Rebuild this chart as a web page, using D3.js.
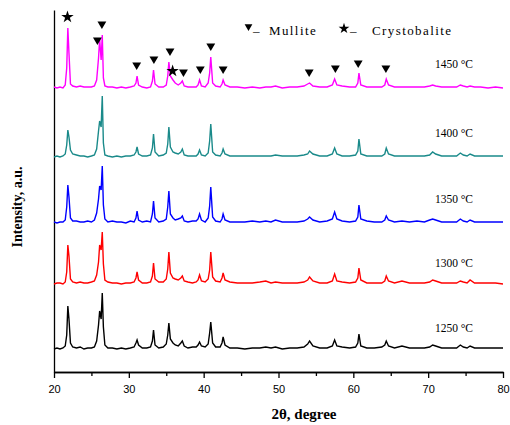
<!DOCTYPE html>
<meta charset="utf-8">
<style>
body { margin: 0; background: #fff; }
text { font-family: 'Liberation Serif', 'Times New Roman', serif; fill: #000; }
.axis text { font-family: 'Liberation Sans', sans-serif; font-size: 11px; }
.axis path, .axis line { stroke: #000; stroke-width: 1.3px; }
.trace { fill: none; stroke-width: 1.4px; stroke-linejoin: miter; }
.temp { font-size: 11.5px; }
.legend { font-size: 13px; letter-spacing: 1.4px; }
</style>
<body>
<svg width="510" height="425"></svg>
<script src="https://cdn.jsdelivr.net/npm/d3@7"></script>
<script>

// 2-theta grid shared by all patterns (degrees)
var twoTheta = [
  20.0, 20.4, 20.8, 21.2, 21.5, 21.7, 21.85, 22.0, 22.2, 22.5,
  23.0, 23.5, 24.0, 24.5, 25.0, 25.4, 25.7, 25.95, 26.1, 26.3,
  26.45, 26.6, 26.8, 27.2, 27.8, 28.4, 29.0, 29.6, 30.2, 30.7,
  30.95, 31.1, 31.3, 31.8, 32.4, 32.9, 33.15, 33.3, 33.5, 34.0,
  34.6, 35.0, 35.2, 35.35, 35.55, 35.9, 36.2, 36.6, 36.95, 37.15,
  37.4, 37.9, 38.5, 39.0, 39.25, 39.45, 39.7, 40.2, 40.6, 40.8,
  40.95, 41.2, 41.6, 42.2, 42.45, 42.6, 42.85, 43.5, 44.5, 45.5,
  46.5, 47.5, 48.3, 49.0, 49.6, 50.5, 51.5, 52.5, 53.4, 53.9,
  54.15, 54.6, 55.5, 56.5, 57.2, 57.5, 57.8, 58.5, 59.5, 60.3,
  60.6, 60.75, 61.0, 61.8, 62.8, 63.8, 64.2, 64.4, 64.7, 65.5,
  66.5, 67.5, 68.5, 69.5, 70.2, 70.6, 71.0, 71.8, 72.8, 73.8,
  74.3, 74.7, 75.2, 75.6, 76.2, 77.0, 78.0, 79.0, 80.0
];

// intensities (a.u.) above each pattern's own baseline
var i1250 = [
  0, 1, 0, 1, 3, 14, 43, 30, 6, 2,
  1, 2, 0, 1, 1, 2, 8, 24, 38, 30,
  56, 22, 4, 1, 1, 0, 1, 0, 1, 2,
  6, 9, 4, 1, 1, 2, 8, 19, 4, 1,
  2, 5, 14, 26, 10, 6, 4, 3, 6, 8,
  3, 1, 2, 2, 4, 7, 3, 2, 5, 16,
  27, 6, 2, 2, 6, 12, 4, 1, 1, 0,
  1, 1, 2, 1, 2, 0, 1, 1, 2, 5,
  8, 3, 1, 1, 3, 9, 3, 2, 1, 2,
  6, 15, 3, 1, 1, 2, 4, 8, 3, 1,
  3, 1, 1, 1, 2, 4, 3, 1, 1, 1,
  4, 2, 1, 3, 1, 1, 1, 1, 1
];
var i1300 = [
  0, 1, 1, 0, 2, 12, 39, 28, 5, 2,
  1, 2, 1, 1, 2, 3, 9, 22, 39, 34,
  52, 20, 4, 2, 1, 1, 0, 1, 1, 2,
  6, 12, 4, 1, 1, 2, 8, 21, 5, 2,
  2, 5, 15, 32, 11, 6, 5, 4, 6, 8,
  3, 2, 1, 2, 4, 9, 3, 2, 5, 14,
  32, 7, 3, 2, 6, 11, 4, 2, 1, 1,
  1, 2, 3, 1, 2, 1, 1, 1, 2, 4,
  7, 3, 1, 1, 3, 10, 3, 2, 1, 2,
  6, 16, 4, 1, 1, 1, 3, 8, 3, 1,
  3, 1, 1, 1, 2, 4, 3, 1, 1, 1,
  3, 2, 1, 4, 1, 1, 1, 1, 0
];
var i1350 = [
  1, 0, 1, 1, 3, 16, 38, 26, 5, 2,
  2, 1, 1, 2, 1, 3, 10, 24, 37, 33,
  57, 18, 4, 1, 2, 1, 1, 0, 2, 1,
  5, 12, 3, 1, 2, 1, 9, 22, 5, 1,
  2, 4, 16, 32, 9, 5, 3, 4, 5, 7,
  2, 1, 2, 2, 4, 9, 3, 1, 5, 17,
  36, 6, 2, 1, 4, 9, 3, 1, 1, 1,
  2, 1, 2, 1, 3, 1, 1, 1, 2, 4,
  6, 3, 1, 2, 4, 11, 4, 2, 1, 2,
  6, 18, 4, 2, 1, 1, 3, 7, 3, 1,
  2, 1, 2, 1, 3, 4, 3, 1, 1, 1,
  4, 2, 1, 3, 1, 1, 1, 1, 1
];
var i1400 = [
  0, 1, 0, 1, 3, 12, 27, 20, 7, 3,
  2, 1, 1, 0, 1, 2, 8, 26, 36, 30,
  61, 14, 2, 1, 0, 1, 0, 1, 1, 2,
  5, 10, 3, 1, 1, 2, 9, 23, 5, 1,
  2, 4, 13, 30, 10, 5, 4, 3, 5, 8,
  2, 1, 1, 1, 3, 7, 2, 1, 4, 16,
  33, 5, 2, 1, 4, 8, 3, 1, 1, 1,
  1, 1, 1, 1, 2, 1, 1, 1, 2, 3,
  6, 3, 1, 1, 3, 9, 3, 1, 1, 2,
  6, 18, 3, 1, 1, 1, 3, 9, 3, 1,
  1, 1, 1, 1, 2, 5, 3, 1, 1, 1,
  4, 2, 1, 3, 1, 1, 1, 1, 1
];
var i1450 = [
  1, 0, 1, 0, 3, 20, 60, 35, 4, 2,
  1, 2, 1, 1, 1, 2, 8, 30, 49, 28,
  53, 10, 2, 1, 1, 0, 1, 0, 1, 2,
  5, 12, 3, 1, 0, 1, 7, 18, 4, 1,
  1, 3, 12, 26, 12, 8, 5, 3, 5, 7,
  2, 1, 1, 1, 3, 8, 2, 1, 5, 15,
  31, 5, 2, 1, 4, 8, 3, 1, 1, 0,
  1, 0, 1, 1, 2, 0, 1, 1, 2, 4,
  5, 2, 1, 1, 3, 9, 3, 2, 1, 1,
  5, 15, 3, 1, 1, 1, 3, 9, 3, 1,
  1, 1, 1, 1, 2, 3, 2, 1, 1, 1,
  3, 2, 1, 2, 1, 1, 0, 1, 0
];

var temps = ["1250 °C", "1300 °C", "1350 °C", "1400 °C", "1450 °C"];
var offsets = [23, 88, 149, 215, 284];
var colors = ["#000000", "#ff0000", "#0000ff", "#1a8a8a", "#ff00ff"];
var patterns = [i1250, i1300, i1350, i1400, i1450];

// phase markers over the 1450 °C pattern
var mulliteAt = [26.4, 25.8, 31.05, 33.35, 35.5, 37.3, 39.55, 40.95, 42.6, 54.1, 57.6, 60.65, 64.35];
var mulliteLevel = [348, 332, 307, 313, 321, 300, 303, 326, 303, 300, 304, 309, 304];
var crystAt = [21.8, 35.85];
var crystLevel = [355, 301];

var xTicks = [20, 30, 40, 50, 60, 70, 80];
var xMinor = [25, 35, 45, 55, 65, 75];

var svg = d3.select("svg");

var x = d3.scaleLinear().domain([20, 80]).range([54, 503]);
var y = d3.scaleLinear().domain([0, 362]).range([372, 10]);

svg.append("g")
    .attr("class", "axis")
    .attr("transform", "translate(0,372)")
    .call(d3.axisBottom(x).tickValues(xMinor).tickSize(4).tickSizeOuter(0).tickFormat(""));

svg.append("g")
    .attr("class", "axis")
    .attr("transform", "translate(0,372)")
    .call(d3.axisBottom(x).tickValues(xTicks).tickSize(6).tickSizeOuter(0).tickPadding(7).tickFormat(d3.format("d")));

svg.append("g")
    .attr("class", "axis")
    .attr("transform", "translate(54,0)")
    .call(d3.axisLeft(y).tickValues([]).tickSizeOuter(0));

var line = d3.line()
    .x(function(d) { return x(d[0]); })
    .y(function(d) { return y(d[1]); });

patterns.forEach(function(p, k) {
  var pts = twoTheta.map(function(t, i) { return [t, p[i] + offsets[k]]; });
  svg.append("path")
      .attr("class", "trace")
      .attr("stroke", colors[k])
      .attr("d", line(pts));

  svg.append("text")
      .attr("class", "temp")
      .attr("x", x(70.9))
      .attr("y", y(offsets[k] + (k < 2 ? 17 : 20)))
      .text(temps[k]);
});

var tri = d3.symbol().type(d3.symbolTriangle).size(34);
var star = d3.symbol().type(d3.symbolStar).size(48);

svg.selectAll(".mul")
  .data(mulliteAt)
  .enter().append("path")
    .attr("class", "mul")
    .attr("d", tri)
    .attr("transform", function(d, i) { return "translate(" + x(d) + "," + y(mulliteLevel[i]) + ") rotate(180)"; });

svg.selectAll(".cry")
  .data(crystAt)
  .enter().append("path")
    .attr("class", "cry")
    .attr("d", star)
    .attr("transform", function(d, i) { return "translate(" + x(d) + "," + y(crystLevel[i]) + ")"; });

// legend
svg.append("path").attr("d", d3.symbol().type(d3.symbolTriangle).size(26))
    .attr("transform", "translate(248.5,26.5) rotate(180)");
svg.append("text").attr("class", "legend").attr("x", 253).attr("y", 35).text("–");
svg.append("text").attr("class", "legend").attr("x", 269).attr("y", 35).text("Mullite");
svg.append("path").attr("d", d3.symbol().type(d3.symbolStar).size(36))
    .attr("transform", "translate(344,28.5)");
svg.append("text").attr("class", "legend").attr("x", 350).attr("y", 35).text("–");
svg.append("text").attr("class", "legend").attr("x", 372).attr("y", 35).text("Crystobalite");

// axis titles
svg.append("text")
    .attr("x", 304).attr("y", 419)
    .attr("text-anchor", "middle")
    .style("font-size", "15px").style("font-weight", "bold")
    .text("2θ, degree");

svg.append("text")
    .attr("transform", "translate(22,207) rotate(-90)")
    .attr("text-anchor", "middle")
    .style("font-size", "14px").style("font-weight", "bold")
    .text("Intensity, a.u.");

</script>
</body>
